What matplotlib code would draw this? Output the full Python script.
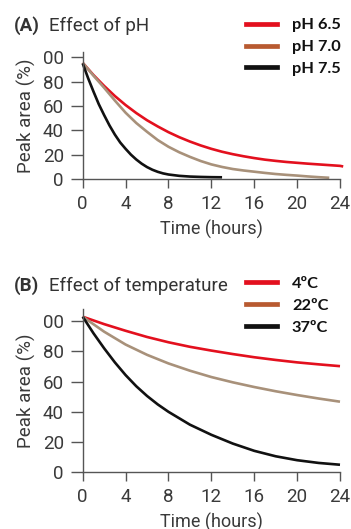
import matplotlib
matplotlib.use("Agg")
import matplotlib.pyplot as plt
from matplotlib.lines import Line2D

# ---------------- data ----------------
# Panel A: effect of pH
t_a65 = [0, 1, 2, 3, 4, 5, 6, 7, 8, 9, 10, 11, 12, 13, 14, 15, 16, 17, 18, 19, 20, 21, 22, 23, 24, 24.3]
y_a65 = [95.5, 85.5, 76.5, 68.2, 60.8, 54.2, 48.3, 43.2, 38.5, 34.4, 30.8, 27.6, 24.8, 22.4, 20.4,
         18.7, 17.2, 15.9, 14.9, 14.0, 13.3, 12.6, 12.0, 11.4, 10.8, 10.3]
t_a70 = [0, 1, 2, 3, 4, 5, 6, 7, 8, 9, 10, 11, 12, 13, 14, 15, 16, 17, 18, 19, 20, 21, 22, 23]
y_a70 = [95.5, 85, 75, 64.5, 54.5, 46, 38.8, 32, 26.5, 22, 18.2, 14.8, 12, 9.9, 8.2, 7, 6, 5,
         4.1, 3.4, 2.8, 2.1, 1.5, 1.0]
t_a75 = [0, 0.5, 1, 1.5, 2, 2.5, 3, 3.5, 4, 4.5, 5, 5.5, 6, 6.5, 7, 7.5, 8, 9, 10, 11, 12, 13]
y_a75 = [95, 83, 72, 61.5, 52.5, 44, 36.5, 30, 24.8, 20, 16, 12.6, 9.8, 7.6, 5.9, 4.6, 3.7,
         2.6, 2.0, 1.7, 1.5, 1.4]
labels_a = ["pH 6.5", "pH 7.0", "pH 7.5"]

# Panel B: effect of temperature
t_b = [0, 2, 4, 6, 8, 10, 12, 14, 16, 18, 20, 22, 24]
y_b4 = [102.9, 98, 93.6, 89.5, 86, 83, 80.5, 78.2, 76.1, 74.3, 72.7, 71.4, 70.2]
y_b22 = [102.9, 93, 84.5, 77.7, 72, 67.2, 63, 59.5, 56.4, 53.6, 51.1, 48.8, 46.7]
t_b37 = [0, 1, 2, 3, 4, 5, 6, 7, 8, 10, 12, 14, 16, 18, 20, 22, 24]
y_b37 = [102.9, 92, 82, 72.7, 64.3, 56.9, 50.5, 44.9, 40, 31.5, 24.8, 19, 14.2, 10.6, 8, 6.2, 5]
labels_b = ["4ºC", "22ºC", "37ºC"]

xticks = [0, 4, 8, 12, 16, 20, 24]
yticks = [0, 20, 40, 60, 80, 100]
ytick_labels = ["0", "20", "40", "60", "80", "00"]

# ---------------- style ----------------
RED = "#e3101e"
TAN = "#a8917a"
BROWN = "#b85a30"
BLACK = "#111111"
TXT = "#3a3a3a"
SPINE = "#555555"

plt.rcParams["font.family"] = ["Roboto", "DejaVu Sans"]

W, H = 351, 529
fig = plt.figure(figsize=(W / 100, H / 100), dpi=100)


def px_axes(left, right, top, bottom):
    return fig.add_axes([left / W, 1 - bottom / H, (right - left) / W, (bottom - top) / H])


def style(ax, ytop):
    ax.set_xlim(0, 24)
    ax.set_ylim(0, ytop)
    ax.set_xticks(xticks)
    ax.set_yticks(yticks)
    ax.set_yticklabels(ytick_labels)
    for s in ("top", "right"):
        ax.spines[s].set_visible(False)
    for s in ("left", "bottom"):
        ax.spines[s].set_color(SPINE)
        ax.spines[s].set_linewidth(1.0)
    ax.tick_params(axis="both", direction="out", width=1.0, color=SPINE,
                   labelsize=13.5, labelcolor=TXT)
    ax.tick_params(axis="y", length=9, pad=4.5)
    ax.tick_params(axis="x", length=6.5, pad=5)
    ax.set_ylabel("Peak area (%)", fontsize=13.5, color=TXT, labelpad=5)
    ax.set_xlabel("Time (hours)", fontsize=13, color=TXT, labelpad=5)
    ax.patch.set_alpha(0)


def legend(ax, labels, top_px):
    handles = [Line2D([], [], color=c, lw=3.4) for c in (RED, BROWN, BLACK)]
    leg = ax.legend(handles, labels, loc="upper left",
                    bbox_to_anchor=(246 / W, 1 - top_px / H), bbox_transform=fig.transFigure,
                    frameon=False, borderpad=0, borderaxespad=0, handlelength=1.9,
                    handletextpad=0.9, labelspacing=0.45,
                    prop={"family": ["Lato", "DejaVu Sans"], "weight": "bold", "size": 11.8})
    for t in leg.get_texts():
        t.set_color("#111111")


LW = 1.9

# Panel A
axA = px_axes(82.7, 340, 52, 179)
style(axA, 104.4)
axA.plot(t_a65, y_a65, color=RED, lw=LW, clip_on=False, solid_capstyle="butt")
axA.plot(t_a70, y_a70, color=TAN, lw=LW, clip_on=False, solid_capstyle="butt")
axA.plot(t_a75, y_a75, color=BLACK, lw=LW, clip_on=False, solid_capstyle="butt")
legend(axA, labels_a, 18)

# Panel B
axB = px_axes(82.7, 340, 309, 472.3)
style(axB, 108)
axB.plot(t_b, y_b4, color=RED, lw=LW, clip_on=False, solid_capstyle="butt")
axB.plot(t_b, y_b22, color=TAN, lw=LW, clip_on=False, solid_capstyle="butt")
axB.plot(t_b37, y_b37, color=BLACK, lw=LW, clip_on=False, solid_capstyle="butt")
legend(axB, labels_b, 276.5)

# Titles
for lab, txt, base in (("(A)", "Effect of pH", 31), ("(B)", "Effect of temperature", 290.7)):
    fig.text(14 / W, 1 - base / H, lab, fontsize=13.5, fontweight="bold", color="#333333",
             va="baseline", ha="left")
    fig.text(49 / W, 1 - base / H, txt, fontsize=13.5, color="#333333",
             va="baseline", ha="left")

fig.savefig("out.png", dpi=100)
